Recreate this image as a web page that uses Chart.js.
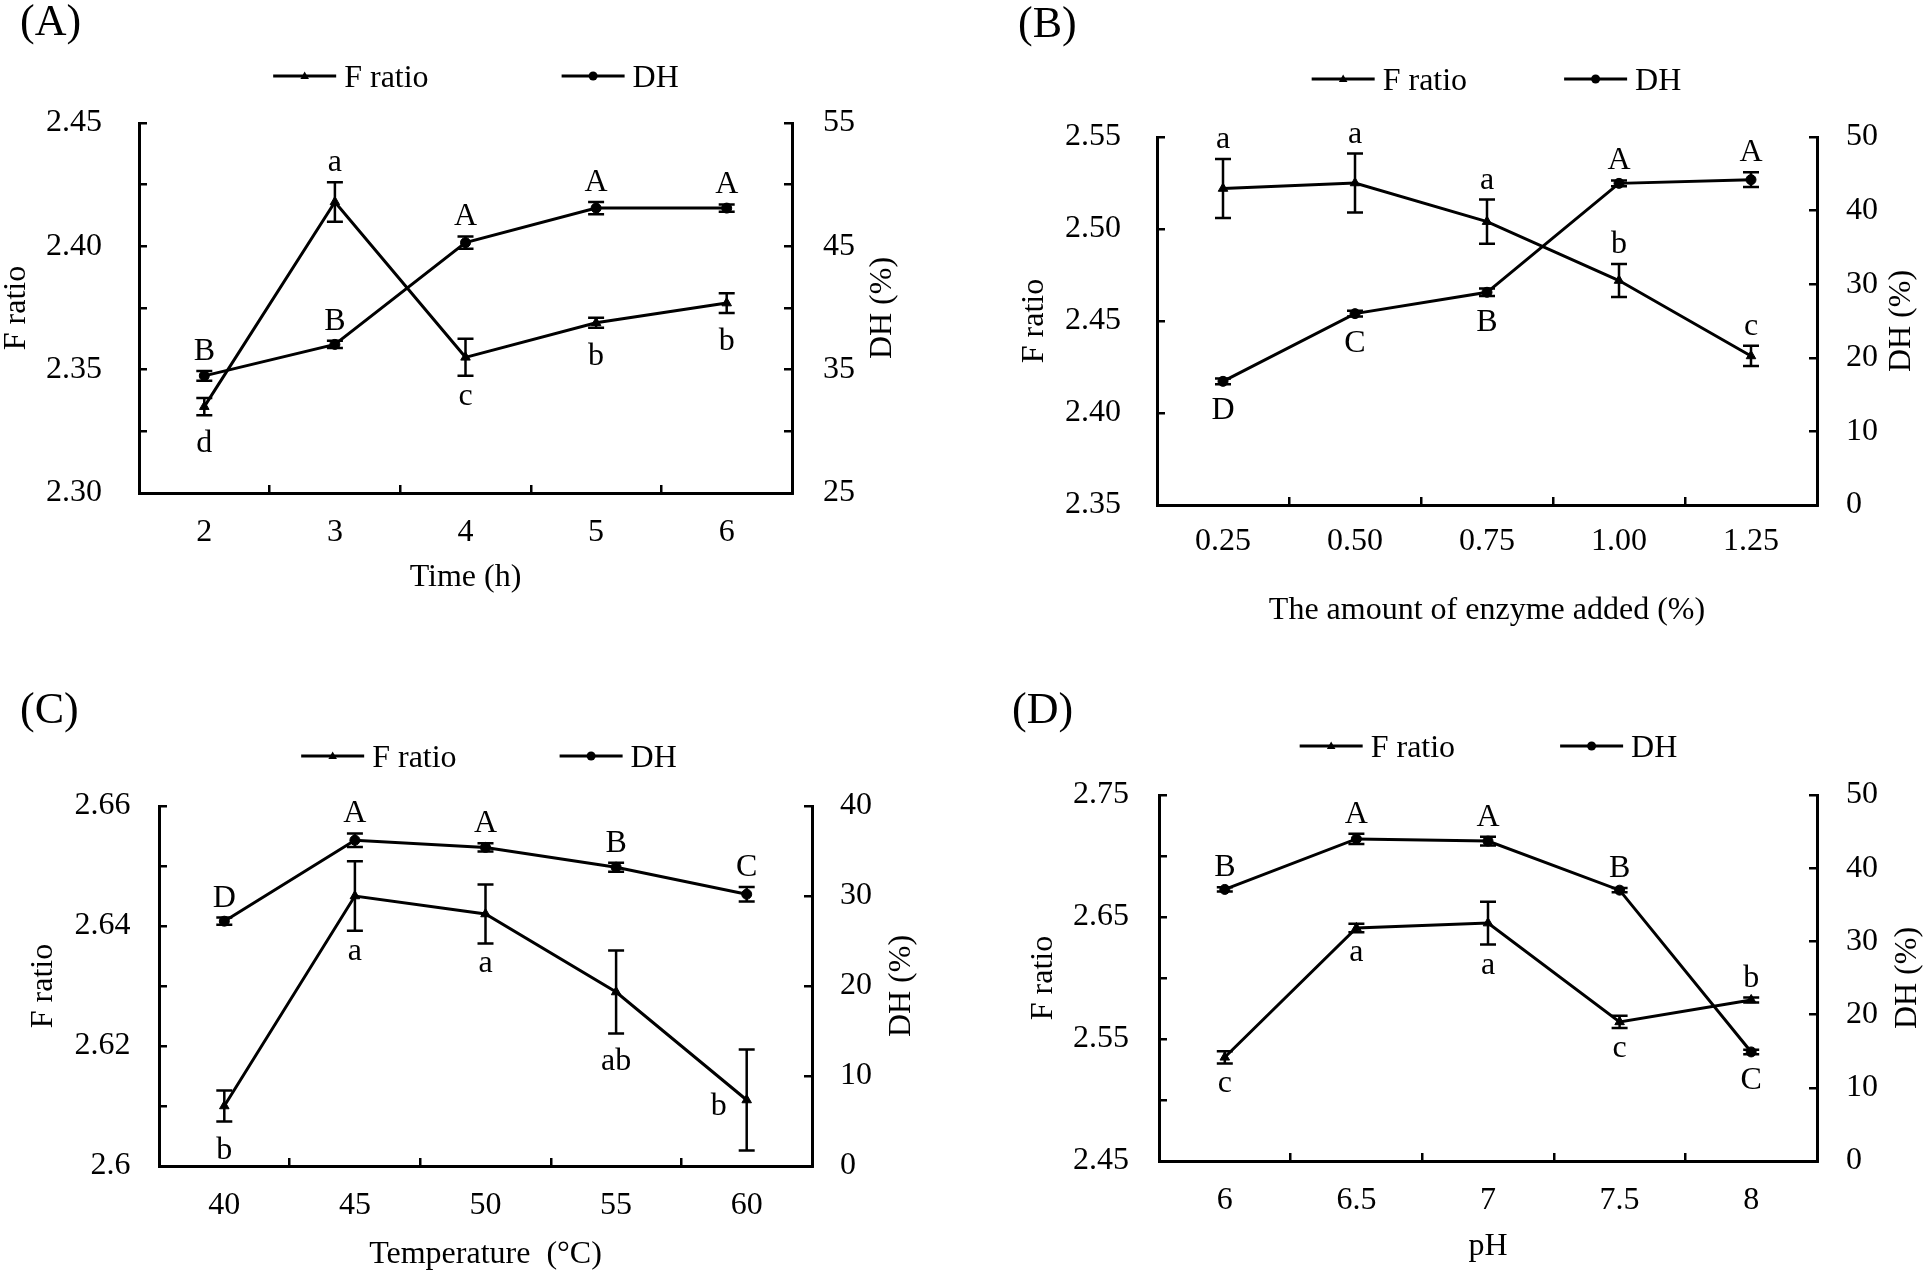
<!DOCTYPE html>
<html>
<head>
<meta charset="utf-8">
<script src="https://cdn.jsdelivr.net/npm/chart.js@4.4.0/dist/chart.umd.min.js"></script>
<style>
  html, body { margin: 0; padding: 0; background: #fff; }
  #wrap { position: relative; width: 1923px; height: 1271px; background: #fff; }
  canvas { position: absolute; display: block; }
</style>
</head>
<body>
<div id="wrap">
  <canvas id="chartA" width="960" height="635" style="left:0;top:0"></canvas>
  <canvas id="chartB" width="963" height="635" style="left:960px;top:0"></canvas>
  <canvas id="chartC" width="960" height="636" style="left:0;top:635px"></canvas>
  <canvas id="chartD" width="963" height="636" style="left:960px;top:635px"></canvas>
</div>
<script>
// (A) hydrolysis time
const timeHours = ['2', '3', '4', '5', '6'];
const fRatioTime = [2.335, 2.418, 2.355, 2.369, 2.377];
const fRatioTimeErr = [0.0035, 0.008, 0.0075, 0.002, 0.004];
const dhTime = [34.5, 37.05, 45.3, 48.1, 48.1];
const dhTimeErr = [0.4, 0.3, 0.5, 0.5, 0.3];
const fLettersTime = ['d', 'a', 'c', 'b', 'b'];
const dhLettersTime = ['B', 'B', 'A', 'A', 'A'];
const fSideTime = ['below', 'above', 'below', 'below', 'below'];
const dhSideTime = ['above', 'above', 'above', 'above', 'above'];
const fTicksTime = ['2.30', '2.35', '2.40', '2.45'];
const dhTicksTime = ['25', '35', '45', '55'];

// (B) enzyme amount
const enzymeAmounts = ['0.25', '0.50', '0.75', '1.00', '1.25'];
const fRatioEnzyme = [2.522, 2.525, 2.504, 2.472, 2.431];
const fRatioEnzymeErr = [0.016, 0.016, 0.012, 0.009, 0.0055];
const dhEnzyme = [16.8, 26.0, 28.9, 43.7, 44.2];
const dhEnzymeErr = [0.4, 0.4, 0.5, 0.4, 1.0];
const fLettersEnzyme = ['a', 'a', 'a', 'b', 'c'];
const dhLettersEnzyme = ['D', 'C', 'B', 'A', 'A'];
const fSideEnzyme = ['above', 'above', 'above', 'above', 'above'];
const dhSideEnzyme = ['below', 'below', 'below', 'above', 'above'];
const fTicksEnzyme = ['2.35', '2.40', '2.45', '2.50', '2.55'];
const dhTicksEnzyme = ['0', '10', '20', '30', '40', '50'];

// (C) temperature
const temperatures = ['40', '45', '50', '55', '60'];
const fRatioTemp = [2.610, 2.645, 2.642, 2.629, 2.611];
const fRatioTempErr = [0.0026, 0.0058, 0.0049, 0.0069, 0.0084];
const dhTemp = [27.2, 36.2, 35.4, 33.2, 30.2];
const dhTempErr = [0.4, 0.75, 0.45, 0.5, 0.8];
const fLettersTemp = ['b', 'a', 'a', 'ab', 'b'];
const dhLettersTemp = ['D', 'A', 'A', 'B', 'C'];
const fSideTemp = ['below', 'below', 'below', 'below', 'left'];
const dhSideTemp = ['above', 'above', 'above', 'above', 'above'];
const fTicksTemp = ['2.6', '2.62', '2.64', '2.66'];
const dhTicksTemp = ['0', '10', '20', '30', '40'];

// (D) pH
const phValues = ['6', '6.5', '7', '7.5', '8'];
const fRatioPh = [2.535, 2.641, 2.645, 2.564, 2.582];
const fRatioPhErr = [0.005, 0.0035, 0.0176, 0.005, 0.002];
const dhPh = [37.1, 44.0, 43.7, 37.0, 14.9];
const dhPhErr = [0.3, 0.7, 0.6, 0.3, 0.3];
const fLettersPh = ['c', 'a', 'a', 'c', 'b'];
const dhLettersPh = ['B', 'A', 'A', 'B', 'C'];
const fSidePh = ['below', 'below', 'below', 'below', 'above'];
const dhSidePh = ['above', 'above', 'above', 'above', 'below'];
const fTicksPh = ['2.45', '2.55', '2.65', '2.75'];
const dhTicksPh = ['0', '10', '20', '30', '40', '50'];

const FONT = '32px "Liberation Serif", "Times New Roman", serif';
Chart.defaults.font.family = '"Liberation Serif", "Times New Roman", serif';
Chart.defaults.font.size = 32;
Chart.defaults.color = '#000';
Chart.defaults.animation = false;

function marker(ctx, style, x, y, r) {
  ctx.beginPath();
  if (style === 'triangle') {
    ctx.moveTo(x, y - r);
    ctx.lineTo(x + r * 0.95, y + r * 0.65);
    ctx.lineTo(x - r * 0.95, y + r * 0.65);
    ctx.closePath();
  } else {
    ctx.arc(x, y, r, 0, Math.PI * 2);
  }
  ctx.fill();
}

// error bars, significance letters, legend, right axis title, panel tag
const decor = {
  id: 'decor',
  afterDatasetsDraw(chart) {
    const ctx = chart.ctx;
    ctx.save();
    ctx.strokeStyle = '#000';
    ctx.fillStyle = '#000';
    ctx.font = FONT;
    ctx.textAlign = 'center';
    ctx.textBaseline = 'alphabetic';
    chart.data.datasets.forEach((ds, i) => {
      const meta = chart.getDatasetMeta(i);
      const ys = chart.scales[ds.yAxisID];
      meta.data.forEach((pt, j) => {
        const yTop = ys.getPixelForValue(ds.data[j] + ds.errors[j]);
        const yBot = ys.getPixelForValue(ds.data[j] - ds.errors[j]);
        ctx.lineWidth = 2.5;
        ctx.beginPath();
        ctx.moveTo(pt.x, yTop); ctx.lineTo(pt.x, yBot);
        ctx.moveTo(pt.x - 8, yTop); ctx.lineTo(pt.x + 8, yTop);
        ctx.moveTo(pt.x - 8, yBot); ctx.lineTo(pt.x + 8, yBot);
        ctx.stroke();

        const txt = ds.letters[j];
        const side = ds.letterSide[j];
        if (side === 'above') {
          ctx.fillText(txt, pt.x, yTop - 11);
        } else if (side === 'below') {
          const asc = ctx.measureText(txt).actualBoundingBoxAscent;
          ctx.fillText(txt, pt.x, yBot + 14 + asc);
        } else {
          ctx.fillText(txt, pt.x - 28, pt.y + 15);
        }
      });
    });
    ctx.restore();
  },
  afterDraw(chart, args, o) {
    const ctx = chart.ctx;
    const area = chart.chartArea;
    ctx.save();
    ctx.fillStyle = '#000';
    ctx.strokeStyle = '#000';
    ctx.font = FONT;

    // legend: line with marker, then label
    const lineLen = 63, textGap = 8;
    const widths = chart.data.datasets.map(ds => lineLen + textGap + ctx.measureText(ds.label).width);
    const total = widths.reduce((a, b) => a + b, 0) + o.legendGap * (widths.length - 1);
    let x = o.legendX - total / 2;
    chart.data.datasets.forEach((ds, k) => {
      ctx.lineWidth = 3;
      ctx.beginPath();
      ctx.moveTo(x, o.legendY);
      ctx.lineTo(x + lineLen, o.legendY);
      ctx.stroke();
      marker(ctx, ds.pointStyle, x + lineLen / 2, o.legendY, 4.5);
      ctx.textAlign = 'left';
      ctx.textBaseline = 'alphabetic';
      ctx.fillText(ds.label, x + lineLen + textGap, o.legendY + 10.5);
      x += widths[k] + o.legendGap;
    });

    // secondary axis title, reading bottom to top
    ctx.save();
    ctx.translate(o.rightTitleX, (area.top + area.bottom) / 2);
    ctx.rotate(-Math.PI / 2);
    ctx.textAlign = 'center';
    ctx.textBaseline = 'middle';
    ctx.fillText(o.rightTitle, 0, 0);
    ctx.restore();

    // panel tag
    ctx.font = '44px "Liberation Serif", "Times New Roman", serif';
    ctx.textAlign = 'left';
    ctx.textBaseline = 'alphabetic';
    ctx.fillText(o.tag, o.tagX, o.tagY);
    ctx.restore();
  }
};

function tickText(labels) {
  return v => labels.find(l => Math.abs(parseFloat(l) - v) < 1e-7) ?? '';
}

const axisGrid = {
  drawOnChartArea: false,
  color: '#000',
  tickColor: '#000',
  tickLength: -8,
  tickWidth: 2.5,
  lineWidth: 2.5
};
const axisBorder = { display: true, color: '#000', width: 3 };

function makePanel(id, p) {
  return new Chart(document.getElementById(id), {
    type: 'line',
    data: {
      labels: p.categories,
      datasets: [
        {
          label: 'F ratio',
          data: p.fRatio,
          errors: p.fErr,
          letters: p.fLetters,
          letterSide: p.fSide,
          yAxisID: 'y',
          borderColor: '#000',
          backgroundColor: '#000',
          borderWidth: 3,
          pointStyle: 'triangle',
          pointRadius: 5.5,
          pointBorderWidth: 1,
          tension: 0
        },
        {
          label: 'DH',
          data: p.dh,
          errors: p.dhErr,
          letters: p.dhLetters,
          letterSide: p.dhSide,
          yAxisID: 'y1',
          borderColor: '#000',
          backgroundColor: '#000',
          borderWidth: 3,
          pointStyle: 'circle',
          pointRadius: 5,
          pointBorderWidth: 1,
          tension: 0
        }
      ]
    },
    options: {
      responsive: false,
      animation: false,
      layout: { padding: { top: p.top, left: 0, right: 0, bottom: 0 } },
      plugins: {
        legend: { display: false },
        tooltip: { enabled: false },
        decor: p.decor
      },
      scales: {
        x: {
          type: 'category',
          offset: true,
          afterFit: s => { s.height = p.xHeight; },
          border: axisBorder,
          grid: Object.assign({ offset: true }, axisGrid),
          ticks: { padding: p.xPad, autoSkip: false, maxRotation: 0 },
          title: { display: true, text: p.xTitle, padding: { top: 0, bottom: p.xTitlePad } }
        },
        y: {
          type: 'linear',
          position: 'left',
          min: p.fMin,
          max: p.fMax,
          afterFit: s => { s.width = p.leftWidth; },
          border: axisBorder,
          grid: axisGrid,
          ticks: { stepSize: p.fStep, autoSkip: false, padding: p.leftPad, callback: tickText(p.fTicks) },
          title: { display: true, text: 'F ratio', padding: { top: p.leftTitlePad, bottom: 0 } }
        },
        y1: {
          type: 'linear',
          position: 'right',
          min: p.dhMin,
          max: p.dhMax,
          afterFit: s => { s.width = p.rightWidth; },
          border: axisBorder,
          grid: axisGrid,
          ticks: { stepSize: p.dhStep, autoSkip: false, padding: p.rightPad, callback: tickText(p.dhTicks) }
        }
      }
    },
    plugins: [decor]
  });
}

makePanel('chartA', {
  categories: timeHours,
  fRatio: fRatioTime, fErr: fRatioTimeErr, fLetters: fLettersTime, fSide: fSideTime,
  dh: dhTime, dhErr: dhTimeErr, dhLetters: dhLettersTime, dhSide: dhSideTime,
  fTicks: fTicksTime, dhTicks: dhTicksTime,
  fMin: 2.30, fMax: 2.45, fStep: 0.025,
  dhMin: 25, dhMax: 55, dhStep: 5,
  xTitle: 'Time (h)',
  top: 123, leftWidth: 139, rightWidth: 168, xHeight: 142,
  leftPad: 45, rightPad: 39, xPad: 28.8, leftTitlePad: -3, xTitlePad: 37.8,
  decor: { legendX: 476, legendY: 76, legendGap: 133, rightTitle: 'DH (%)', rightTitleX: 883, tag: '(A)', tagX: 20, tagY: 35 }
});

makePanel('chartB', {
  categories: enzymeAmounts,
  fRatio: fRatioEnzyme, fErr: fRatioEnzymeErr, fLetters: fLettersEnzyme, fSide: fSideEnzyme,
  dh: dhEnzyme, dhErr: dhEnzymeErr, dhLetters: dhLettersEnzyme, dhSide: dhSideEnzyme,
  fTicks: fTicksEnzyme, dhTicks: dhTicksEnzyme,
  fMin: 2.35, fMax: 2.55, fStep: 0.05,
  dhMin: 0, dhMax: 50, dhStep: 10,
  xTitle: 'The amount of enzyme added (%)',
  top: 137, leftWidth: 197, rightWidth: 106, xHeight: 130,
  leftPad: 44, rightPad: 37, xPad: 25.8, leftTitlePad: 55, xTitlePad: 4.8,
  decor: { legendX: 536.5, legendY: 79, legendGap: 97, rightTitle: 'DH (%)', rightTitleX: 941.5, tag: '(B)', tagX: 58, tagY: 37 }
});

makePanel('chartC', {
  categories: temperatures,
  fRatio: fRatioTemp, fErr: fRatioTempErr, fLetters: fLettersTemp, fSide: fSideTemp,
  dh: dhTemp, dhErr: dhTempErr, dhLetters: dhLettersTemp, dhSide: dhSideTemp,
  fTicks: fTicksTemp, dhTicks: dhTicksTemp,
  fMin: 2.60, fMax: 2.66, fStep: 0.01,
  dhMin: 0, dhMax: 40, dhStep: 10,
  xTitle: 'Temperature  (°C)',
  top: 171, leftWidth: 159, rightWidth: 148, xHeight: 105,
  leftPad: 36.5, rightPad: 36, xPad: 28.8, leftTitlePad: 24, xTitlePad: -3.2,
  decor: { legendX: 489, legendY: 121, legendGap: 103, rightTitle: 'DH (%)', rightTitleX: 901.5, tag: '(C)', tagX: 20, tagY: 88 }
});

makePanel('chartD', {
  categories: phValues,
  fRatio: fRatioPh, fErr: fRatioPhErr, fLetters: fLettersPh, fSide: fSidePh,
  dh: dhPh, dhErr: dhPhErr, dhLetters: dhLettersPh, dhSide: dhSidePh,
  fTicks: fTicksPh, dhTicks: dhTicksPh,
  fMin: 2.45, fMax: 2.75, fStep: 0.05,
  dhMin: 0, dhMax: 50, dhStep: 10,
  xTitle: 'pH',
  top: 160, leftWidth: 199, rightWidth: 106, xHeight: 110,
  leftPad: 38, rightPad: 37, xPad: 28.8, leftTitlePad: 64, xTitlePad: 4.8,
  decor: { legendX: 528.5, legendY: 111, legendGap: 105, rightTitle: 'DH (%)', rightTitleX: 948, tag: '(D)', tagX: 52, tagY: 88 }
});
</script>
</body>
</html>
